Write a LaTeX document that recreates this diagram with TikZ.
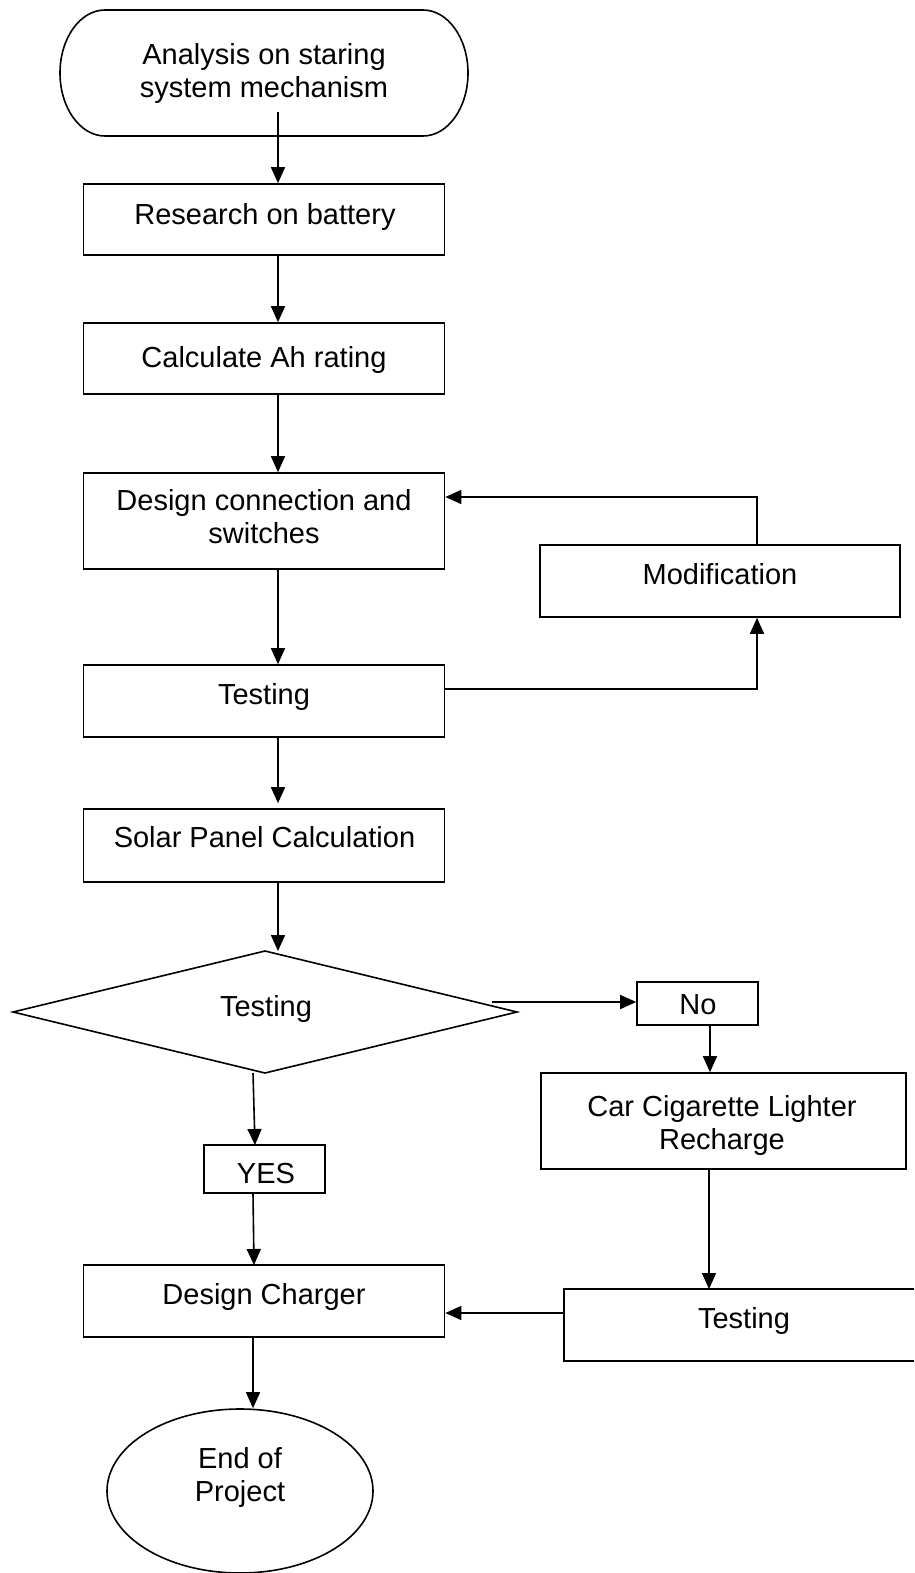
\documentclass[tikz,border=0pt]{standalone}
\usepackage{fontspec}
\setmainfont{Liberation Sans}
\usetikzlibrary{arrows.meta,shapes.geometric}
\begin{document}
\begin{tikzpicture}[x=1pt,y=-1pt,line width=1.6pt,
  box/.style={draw,rectangle,inner sep=0pt},
  txt/.style={inner sep=0pt,align=center,font=\fontsize{29}{33}\selectfont},
  btxt/.style={txt,anchor=base},
  arr/.style={-{Triangle[length=16pt,width=14pt]}}]
\useasboundingbox (0,0) rectangle (914,1573);
% start terminal
\draw (105,10) -- (423,10) arc[start angle=90,end angle=-90,x radius=45pt,y radius=63pt]
  -- (105,136) arc[start angle=-90,end angle=-270,x radius=45pt,y radius=63pt] -- cycle;
\node[txt] (start) at (264,74) {Analysis on staring\\system mechanism};
\coordinate (startout) at (278,112);
% boxes
\node[box,minimum width=361,minimum height=71] (research) at (264,219.5) {};
\node[btxt] (researchT) at (265,224) {Research on battery};
\node[box,minimum width=361,minimum height=71] (calc) at (264,358.5) {};
\node[btxt] (calcT) at (264,367) {Calculate Ah rating};
\node[box,minimum width=361,minimum height=96] (design) at (264,521) {};
\node[txt] (designT) at (264,517) {Design connection and\\switches};
\node[box,minimum width=360,minimum height=72] (modif) at (720,581) {};
\node[btxt] (modifT) at (720,584) {Modification};
\node[box,minimum width=361,minimum height=72] (test1) at (264,701) {};
\node[btxt] (test1T) at (264,704) {Testing};
\node[box,minimum width=361,minimum height=73] (solar) at (264,845.5) {};
\node[btxt] (solarT) at (264.5,847) {Solar Panel Calculation};
% diamond
\draw (13,1012) -- (265,951) -- (517,1012) -- (265,1073) -- cycle;
\node[btxt] (diaT) at (266,1016) {Testing};
\coordinate (diaE) at (492,1002);
\coordinate (diaS) at (253,1073);
\node[box,minimum width=121,minimum height=43] (no) at (697.5,1003.5) {};
\node[btxt] (noT) at (698,1014) {No};
\node[box,minimum width=365,minimum height=96] (car) at (723.5,1121) {};
\node[txt] (carT) at (722,1125) {Car Cigarette Lighter\\Recharge};
\node[box,minimum width=121,minimum height=48] (yes) at (264.5,1169) {};
\node[btxt] (yesT) at (266,1183) {YES};
\node[box,minimum width=361,minimum height=72] (charger) at (264,1301) {};
\node[btxt] (chargerT) at (264,1304) {Design Charger};
% right testing box (cut off by the edge)
\draw (914,1289) -- (564,1289) -- (564,1361) -- (914,1361);
\coordinate (test2W) at (564,1313);
\coordinate (test2N) at (709,1289);
\node[btxt] (test2T) at (744,1328) {Testing};
% end ellipse
\node[draw,ellipse,minimum width=266,minimum height=164,inner sep=0pt] (endp) at (240,1491) {};
\node[txt] (endT) at (240,1477) {End of\\Project};
% connectors
\draw[arr] (startout) -- ([xshift=14]research.north);
\draw[arr] ([xshift=14]research.south) -- ([xshift=14]calc.north);
\draw[arr] ([xshift=14]calc.south) -- ([xshift=14]design.north);
\draw[arr] ([xshift=14]design.south) -- ([xshift=14]test1.north);
\draw[arr] ([xshift=14]test1.south) -- ([xshift=14,yshift=5]solar.north);
\draw[arr] ([xshift=14]solar.south) -- (278,951);
\draw[arr] (modif.north -| 757,0) |- (design.east |- 0,497);
\draw[arr] (test1.east |- 0,689) -| (modif.south -| 757,0);
\draw[arr] (diaE) -- (no.west |- diaE);
\draw[arr] (no.south -| 710,0) -- (car.north -| 710,0);
\draw[arr] (car.south -| 709,0) -- (test2N);
\draw[arr] (diaS) -- (255,1145);
\draw[arr] (yes.south -| 253,0) -- (254,1265);
\draw[arr] (test2W) -- (charger.east |- test2W);
\draw[arr] (charger.south -| 253,0) -- (endp.north -| 253,0);
\end{tikzpicture}
\end{document}
